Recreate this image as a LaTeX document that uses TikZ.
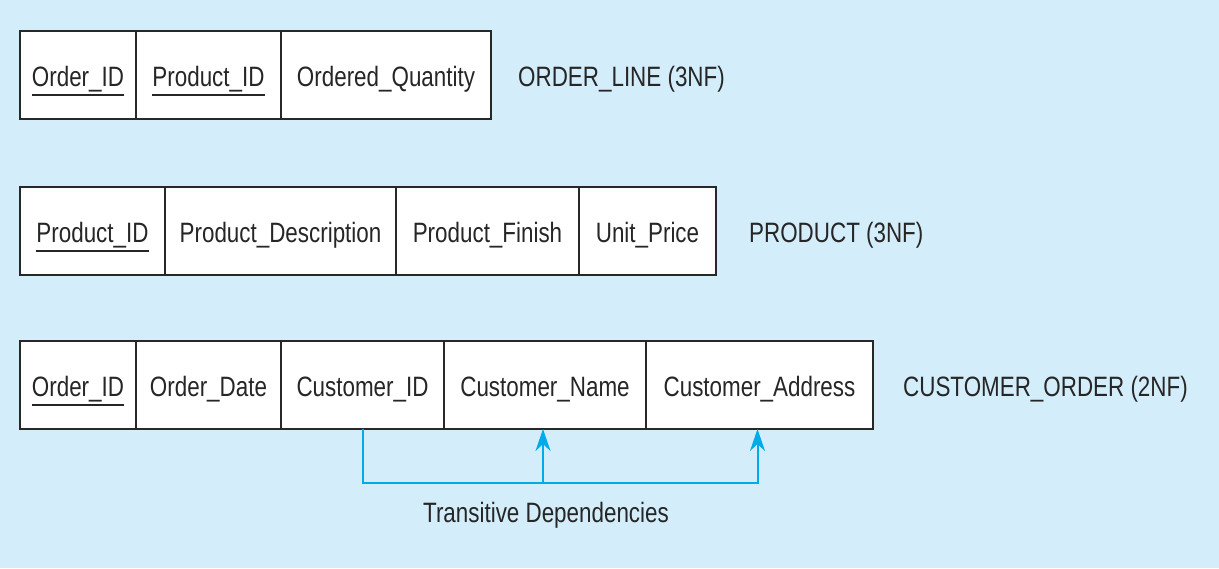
\documentclass[tikz,border=0pt]{standalone}
\usepackage{fontspec}
\setmainfont{Liberation Sans}[FakeStretch=0.8]
\usetikzlibrary{arrows.meta}
\definecolor{bgblue}{RGB}{211,237,250}
\definecolor{depblue}{RGB}{0,170,235}
\definecolor{edge}{RGB}{40,40,40}
\newcommand\pk[1]{\setbox0\hbox{#1}\rlap{\usebox0}\smash{\rule[-10pt]{\wd0}{2pt}}}
\tikzset{
  cell/.style={draw=edge, line width=1.6pt, fill=white, rectangle, anchor=north west,
    minimum height=88pt, inner sep=0pt, outer sep=0pt, text height=26pt, text depth=4pt,
    font=\fontsize{28}{32}\selectfont, text=black!85},
  rel/.style={anchor=base west, inner sep=0pt, font=\fontsize{28}{32}\selectfont, text=black!85},
  dep/.style={draw=depblue, line width=2pt, -{Stealth[length=22pt,width=15pt,inset=7pt]}},
}
\begin{document}
\begin{tikzpicture}[x=1pt,y=-1pt]
\fill[bgblue] (0,0) rectangle (1219,568);
% ORDER_LINE
\node[cell, minimum width=116pt] (ol1) at (20,31) {\pk{Order\_ID}};
\node[cell, minimum width=145pt] (ol2) at (136,31) {\pk{Product\_ID}};
\node[cell, minimum width=210pt] (ol3) at (281,31) {Ordered\_Quantity};
\node[rel] (olname) at (518,86) {ORDER\_LINE (3NF)};
% PRODUCT
\node[cell, minimum width=145pt] (p1) at (20,187) {\pk{Product\_ID}};
\node[cell, minimum width=231pt] (p2) at (165,187) {Product\_Description};
\node[cell, minimum width=183pt] (p3) at (396,187) {Product\_Finish};
\node[cell, minimum width=137pt] (p4) at (579,187) {Unit\_Price};
\node[rel] (pname) at (749,242) {PRODUCT (3NF)};
% CUSTOMER_ORDER
\node[cell, minimum width=116pt] (co1) at (20,341) {\pk{Order\_ID}};
\node[cell, minimum width=145pt] (co2) at (136,341) {Order\_Date};
\node[cell, minimum width=163pt] (cid) at (281,341) {Customer\_ID};
\node[cell, minimum width=202pt] (cname) at (444,341) {Customer\_Name};
\node[cell, minimum width=227pt] (caddr) at (646,341) {Customer\_Address};
\node[rel] (coname) at (903,396) {CUSTOMER\_ORDER (2NF)};
% transitive dependencies
\coordinate (bus) at ([yshift=-54pt]cid.south);
\coordinate (nametip) at ([xshift=-2pt]cname.south);
\coordinate (addrtip) at ([xshift=-2pt]caddr.south);
\draw[dep] (cid.south) -- (bus) -| (addrtip);
\draw[dep] (bus -| nametip) -- (nametip);
\node[rel, anchor=base] (tdlabel) at (546,522) {Transitive Dependencies};
\end{tikzpicture}
\end{document}
